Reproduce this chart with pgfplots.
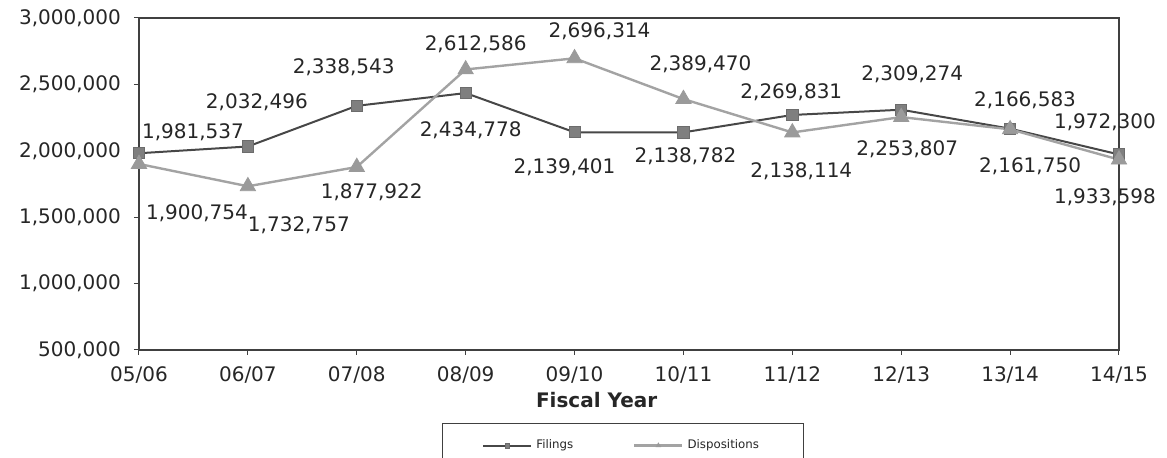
\documentclass[border=0pt]{standalone}
\usepackage{pgfplots}
\pgfplotsset{compat=1.18}
\usepackage{fontspec}
\setmainfont{DejaVu Sans}
\definecolor{txt}{HTML}{262626}
\definecolor{axc}{HTML}{404040}
\definecolor{filline}{HTML}{474747}
\definecolor{filmark}{HTML}{7F7F7F}
\definecolor{disline}{HTML}{A3A3A3}
\definecolor{dismark}{HTML}{9A9A9A}
\newcommand{\lbl}[5]{\node[txt,font=\fontsize{10}{12}\selectfont,inner sep=0pt,anchor=center,xshift=#3pt,yshift=#4pt] at (axis cs:#1,#2) {#5};}
\begin{document}
\begin{tikzpicture}
\begin{axis}[
  name=ax,
  scale only axis,
  width=490pt, height=166pt,
  xmin=0, xmax=9,
  ymin=500000, ymax=3000000,
  xtick={0,...,9},
  xticklabels={05/06,06/07,07/08,08/09,09/10,10/11,11/12,12/13,13/14,14/15},
  ytick={500000,1000000,1500000,2000000,2500000,3000000},
  scaled y ticks=false,
  /pgf/number format/.cd, fixed, precision=0, 1000 sep={,}, assume math mode=true,
  /pgfplots/.cd,
  axis line style={axc, line width=0.6pt},
  tick style={axc, line width=0.5pt},
  tick align=outside,
  major tick length=2.5pt,
  xtick pos=bottom, ytick pos=left,
  ticklabel style={txt, font=\fontsize{10}{12}\selectfont},
  xticklabel style={anchor=center, yshift=-10pt},
  yticklabel style={anchor=east, xshift=-3pt},
  xlabel={Fiscal Year},
  xlabel style={at={(axis description cs:0.467,0)}, anchor=center, yshift=-25pt, font=\bfseries\fontsize{10}{12}\selectfont, txt},
  legend columns=2,
  legend style={at={(0.309,-0.22)}, anchor=north west, draw=axc, line width=0.5pt,
    font=\fontsize{5.9}{7}\selectfont, text=txt, inner xsep=20pt, inner ysep=6pt,
    /tikz/every even column/.append style={column sep=28pt}},
  legend image code/.code={\draw[#1, mark size=1.2pt, mark repeat=2, mark phase=2] plot coordinates {(0pt,0pt) (12pt,0pt) (24pt,0pt)};},
  legend cell align=left,
  clip=false,
]
\addplot[filline, line width=1pt, mark=square*, mark size=2.8pt,
  mark options={fill=filmark, draw=filmark!85!black, line width=0.4pt}]
  coordinates {(0,1981537) (1,2032496) (2,2338543) (3,2434778) (4,2139401)
               (5,2138782) (6,2269831) (7,2309274) (8,2166583) (9,1972300)};
\addlegendentry{Filings}
\addplot[disline, line width=1.2pt, mark=triangle*, mark size=4.4pt,
  mark options={fill=dismark, draw=dismark, line width=0.4pt}]
  coordinates {(0,1900754) (1,1732757) (2,1877922) (3,2612586) (4,2696314)
               (5,2389470) (6,2138114) (7,2253807) (8,2161750) (9,1933598)};
\addlegendentry{Dispositions}
% Filings labels
\lbl{0}{1981537}{27}{10.5}{1,981,537}
\lbl{1}{2032496}{4.5}{22}{2,032,496}
\lbl{2}{2338543}{-6.5}{19.5}{2,338,543}
\lbl{3}{2434778}{2.5}{-18.5}{2,434,778}
\lbl{4}{2139401}{-5}{-17.5}{2,139,401}
\lbl{5}{2138782}{1}{-12}{2,138,782}
\lbl{6}{2269831}{-0.5}{11.5}{2,269,831}
\lbl{7}{2309274}{5.5}{17.5}{2,309,274}
\lbl{8}{2166583}{7.5}{14}{2,166,583}
\lbl{9}{1972300}{-7}{16}{1,972,300}
% Dispositions labels
\lbl{0}{1900754}{29}{-24.5}{1,900,754}
\lbl{1}{1732757}{25.5}{-19.5}{1,732,757}
\lbl{2}{1877922}{7.5}{-12.5}{1,877,922}
\lbl{3}{2612586}{5}{12.5}{2,612,586}
\lbl{4}{2696314}{12.5}{13.5}{2,696,314}
\lbl{5}{2389470}{8.5}{17.5}{2,389,470}
\lbl{6}{2138114}{4.5}{-19.5}{2,138,114}
\lbl{7}{2253807}{3}{-16}{2,253,807}
\lbl{8}{2161750}{10}{-18.5}{2,161,750}
\lbl{9}{1933598}{-7}{-19}{1,933,598}
\end{axis}
\pgfresetboundingbox
\path[use as bounding box] (-69.5pt,-54pt) rectangle (514pt,175pt);
\end{tikzpicture}
\end{document}
